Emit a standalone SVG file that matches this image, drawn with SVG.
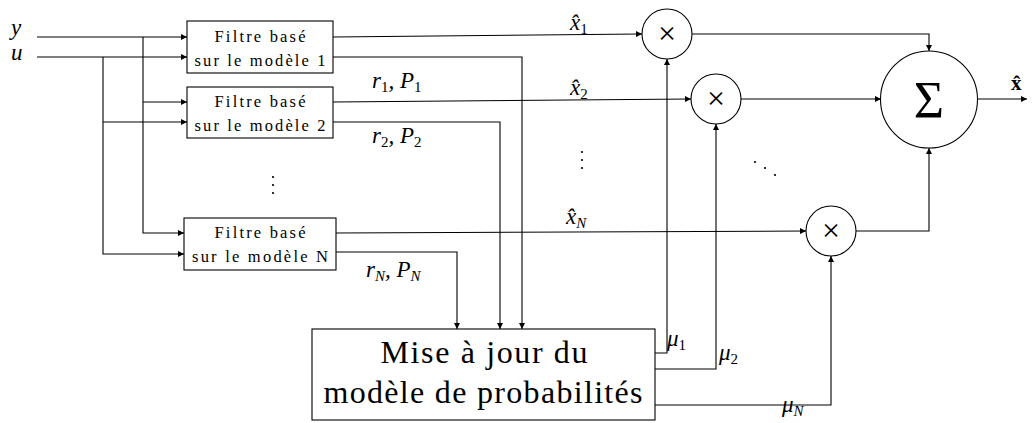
<svg xmlns="http://www.w3.org/2000/svg" width="1035" height="423" viewBox="0 0 1035 423">
<style>
.box{fill:#fff;stroke:#000;stroke-width:1.1}
.ln{fill:none;stroke:#000;stroke-width:1.1}
.ft{font-family:"Liberation Serif","DejaVu Serif",serif;font-size:16.5px;fill:#000;text-anchor:middle}
.big{font-family:"Liberation Serif","DejaVu Serif",serif;font-size:32px;fill:#000;text-anchor:middle}
.m{font-family:"Liberation Serif","DejaVu Serif",serif;font-style:italic;font-size:23px;fill:#000}
.sub{font-size:15px;font-style:normal}
.subi{font-size:15px}
.op{font-family:"Liberation Serif","DejaVu Serif",serif;font-size:32px;fill:#000;text-anchor:middle}
</style>
<defs>
<marker id="ah" viewBox="0 0 10 10" refX="10" refY="5" markerWidth="8" markerHeight="6" markerUnits="userSpaceOnUse" orient="auto">
<path d="M0,0 L10,5 L0,10 z" fill="#000"/>
</marker>
</defs>
<g id="connectors">
<path class="ln" d="M37,37 H187" marker-end="url(#ah)"/>
<path class="ln" d="M37,57 H187" marker-end="url(#ah)"/>
<path class="ln" d="M143,37 V233 H184" marker-end="url(#ah)"/>
<path class="ln" d="M143,102 H187" marker-end="url(#ah)"/>
<path class="ln" d="M103,57 V254 H184" marker-end="url(#ah)"/>
<path class="ln" d="M103,122 H187" marker-end="url(#ah)"/>
<path class="ln" d="M333,37 L642,34" marker-end="url(#ah)"/>
<path class="ln" d="M333,102 L691,99" marker-end="url(#ah)"/>
<path class="ln" d="M336,233 L806,231" marker-end="url(#ah)"/>
<path class="ln" d="M333,57 H522 V329" marker-end="url(#ah)"/>
<path class="ln" d="M333,122 H500 V329" marker-end="url(#ah)"/>
<path class="ln" d="M336,252 H457 V329" marker-end="url(#ah)"/>
<path class="ln" d="M655,353 H667 V59" marker-end="url(#ah)"/>
<path class="ln" d="M655,369 H716 V124" marker-end="url(#ah)"/>
<path class="ln" d="M655,405 H831 V256" marker-end="url(#ah)"/>
<path class="ln" d="M692,34 H929 V51" marker-end="url(#ah)"/>
<path class="ln" d="M741,99 H881" marker-end="url(#ah)"/>
<path class="ln" d="M856,231 H929 V148" marker-end="url(#ah)"/>
<path class="ln" d="M978,99 H1027" marker-end="url(#ah)"/>
</g>
<g id="filtre1">
<rect class="box" x="187" y="21" width="146" height="52"/>
<text class="ft" x="260" y="42" textLength="91" lengthAdjust="spacing">Filtre basé</text>
<text class="ft" x="260" y="66" textLength="131" lengthAdjust="spacing">sur le modèle 1</text>
</g>
<g id="filtre2">
<rect class="box" x="187" y="87" width="146" height="51"/>
<text class="ft" x="260" y="107" textLength="91" lengthAdjust="spacing">Filtre basé</text>
<text class="ft" x="260" y="131" textLength="131" lengthAdjust="spacing">sur le modèle 2</text>
</g>
<g id="filtreN">
<rect class="box" x="184" y="218" width="152" height="52"/>
<text class="ft" x="260" y="238" textLength="91" lengthAdjust="spacing">Filtre basé</text>
<text class="ft" x="260" y="262" textLength="136" lengthAdjust="spacing">sur le modèle N</text>
</g>
<g id="miseajour">
<rect class="box" x="312" y="329" width="343" height="91"/>
<text class="big" x="484" y="363" textLength="207" lengthAdjust="spacing">Mise à jour du</text>
<text class="big" x="483" y="403" textLength="319" lengthAdjust="spacing">modèle de probabilités</text>
</g>
<g id="mult1">
<circle class="box" cx="667" cy="34" r="25"/>
<text class="op" x="667" y="44">×</text>
</g>
<g id="mult2">
<circle class="box" cx="716" cy="99" r="25"/>
<text class="op" x="716" y="109">×</text>
</g>
<g id="multN">
<circle class="box" cx="831" cy="231" r="25"/>
<text class="op" x="831" y="241">×</text>
</g>
<g id="somme">
<circle class="box" cx="929" cy="99.5" r="48.5"/>
<text x="929" y="118" font-family="Liberation Serif, DejaVu Serif, serif" font-size="52" text-anchor="middle">Σ</text>
</g>
<g id="labels">
<text class="m" x="11" y="35" font-size="21">y</text>
<text class="m" x="11" y="60" font-size="21">u</text>
<text class="m" x="570" y="30">x̂<tspan class="sub" dy="4">1</tspan></text>
<text class="m" x="570" y="95">x̂<tspan class="sub" dy="4">2</tspan></text>
<text class="m" x="566" y="224">x̂<tspan class="subi" dy="4">N</tspan></text>
<text class="m" x="372" y="88">r<tspan class="sub" dy="4">1</tspan><tspan dy="-4">, P</tspan><tspan class="sub" dy="4">1</tspan></text>
<text class="m" x="372" y="143">r<tspan class="sub" dy="4">2</tspan><tspan dy="-4">, P</tspan><tspan class="sub" dy="4">2</tspan></text>
<text class="m" x="366" y="277">r<tspan class="subi" dy="4">N</tspan><tspan dy="-4">, P</tspan><tspan class="subi" dy="4">N</tspan></text>
<text class="m" x="667" y="346">μ<tspan class="sub" dy="4">1</tspan></text>
<text class="m" x="719" y="360">μ<tspan class="sub" dy="4">2</tspan></text>
<text class="m" x="782" y="412">μ<tspan class="subi" dy="4">N</tspan></text>
<text x="1011" y="90" font-family="Liberation Serif, DejaVu Serif, serif" font-weight="bold" font-size="21">x̂</text>
</g>
<g id="dots" fill="#000">
<circle cx="273" cy="177" r="1.1"/><circle cx="273" cy="185" r="1.1"/><circle cx="273" cy="193" r="1.1"/>
<circle cx="582" cy="152" r="1.1"/><circle cx="582" cy="160" r="1.1"/><circle cx="582" cy="168" r="1.1"/>
<circle cx="755" cy="162" r="1.1"/><circle cx="765" cy="168" r="1.1"/><circle cx="775" cy="175" r="1.1"/>
</g>
</svg>
